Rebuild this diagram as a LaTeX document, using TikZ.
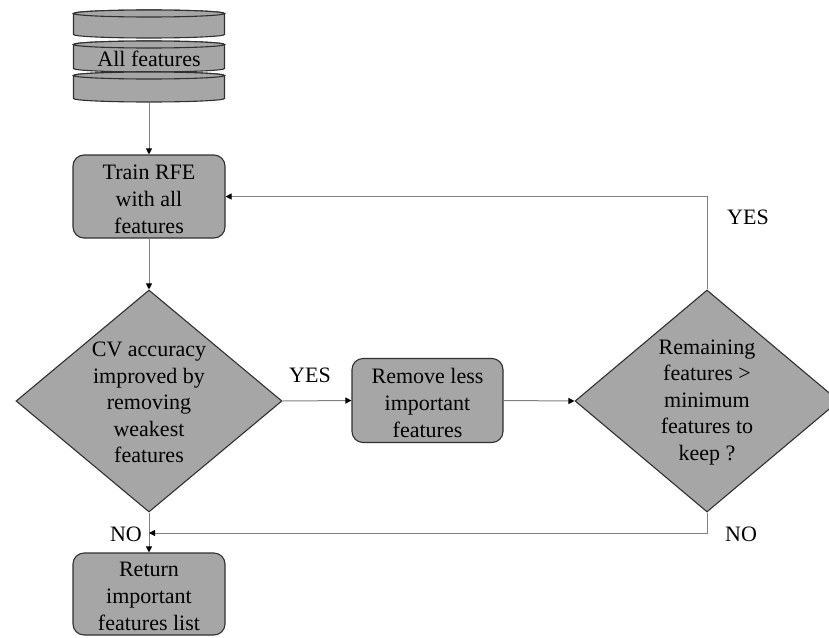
\documentclass[tikz,border=0pt]{standalone}
\usepackage{fontspec}
\setmainfont{Liberation Serif}
\usetikzlibrary{shapes.geometric,arrows.meta}
\definecolor{boxfill}{HTML}{A6A6A6}
\definecolor{boxline}{HTML}{303030}
\definecolor{conn}{HTML}{808080}
\tikzset{
  lbl/.style={font=\fontsize{22}{26.5}\selectfont, align=center, inner sep=0pt},
  boxtext/.style={font=\fontsize{22}{27}\selectfont, align=center, inner sep=0pt},
  procbox/.style={draw=boxline, fill=boxfill, line width=1.1pt, rounded corners=11pt,
    minimum width=152pt, minimum height=83pt, inner sep=0pt},
  decision/.style={draw=boxline, fill=boxfill, line width=1.1pt, shape=diamond,
    inner sep=0pt, minimum height=222pt},
  disc/.style={draw=boxline, fill=boxfill, line width=1.1pt},
  flow/.style={draw=conn, line width=1pt, -{Triangle[length=6pt,width=6pt,color=black]}},
}
\begin{document}
\begin{tikzpicture}[x=1pt,y=-1pt]
\useasboundingbox (0,0) rectangle (829,637);
\clip (0,0) rectangle (829,637);
% database stack
\foreach \t/\b in {13.5/34.5, 44.5/68.5, 75.5/98.5}{
  \path[disc] (73.5,\t) -- (73.5,\b) arc (180:0:75.5 and 3.5) -- (224.5,\t) arc (0:-180:75.5 and 3.5) -- cycle;
  \path[disc] (149,\t) ellipse (75.5 and 3.5);
}
\node[minimum width=151pt, minimum height=92pt, inner sep=0pt] (db) at (149,56) {};
\node[lbl] (dbtext) at (149,58.5) {All features};
% process boxes
\node[procbox] (train) at (149,196.5) {};
\node[boxtext] (traintext) at (149,199) {Train RFE\\with all\\features};
\node[procbox, minimum width=151pt, minimum height=84pt] (remove) at (427.5,400.5) {};
\node[boxtext] (removetext) at (427.5,403) {Remove less\\important\\features};
\node[procbox, minimum height=82pt] (ret) at (149,594) {};
\node[boxtext] (rettext) at (149,596) {Return\\important\\features list};
% decisions
\node[decision, minimum width=266pt] (d1) at (149,401) {};
\node[lbl] (d1text) at (149,402.5) {CV accuracy\\improved by\\removing\\weakest\\features};
\node[decision, minimum width=264pt] (d2) at (707,401) {};
\node[lbl] (d2text) at (707,402.5) {Remaining\\features >\\minimum\\features to\\keep ?};
\coordinate (join) at (149,533);
% connectors
\draw[flow] (db.south) -- (train.north);
\draw[flow] (train.south) -- (d1.north);
\draw[flow] (d1.east) -- (remove.west);
\draw[flow] (remove.east) -- (d2.west);
\draw[flow] (d2.north) |- (train.east);
\draw[flow] (d1.south) -- (ret.north);
\draw[flow] (d2.south) |- (join);
% labels
\node[lbl] (yes1) at (310,375) {YES};
\node[lbl] (yes2) at (748,217) {YES};
\node[lbl] (no1) at (126,534) {NO};
\node[lbl] (no2) at (741,534) {NO};
\end{tikzpicture}
\end{document}
